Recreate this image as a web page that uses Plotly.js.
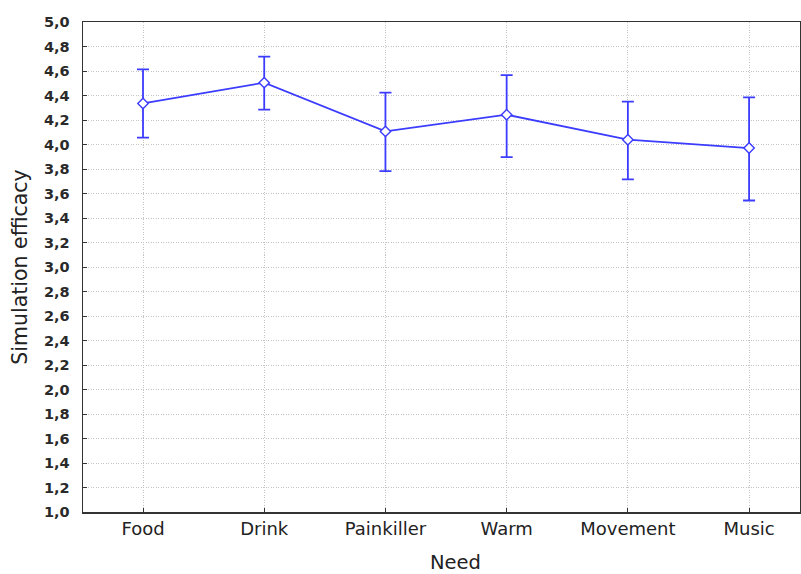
<!DOCTYPE html>
<html><head><meta charset="utf-8">
<script src="https://cdn.plot.ly/plotly-3.0.1.min.js"></script>
<style>html,body{margin:0;padding:0;background:#fff}</style>
</head><body>
<div id="chart" style="width:801px;height:574px"></div>
<script>
const categories = ["Food", "Drink", "Painkiller", "Warm", "Movement", "Music"];
const means = [4.335, 4.505, 4.107, 4.243, 4.039, 3.971];
const upper = [4.614, 4.717, 4.423, 4.567, 4.350, 4.385];
const lower = [4.056, 4.284, 3.783, 3.897, 3.715, 3.543];
const yTicks = [1.0,1.2,1.4,1.6,1.8,2.0,2.2,2.4,2.6,2.8,3.0,3.2,3.4,3.6,3.8,4.0,4.2,4.4,4.6,4.8,5.0];
const xTitle = "Need";
const yTitle = "Simulation efficacy";

const xIdx = categories.map((c, i) => i);
const errPlus = means.map((m, i) => upper[i] - m);
const errMinus = means.map((m, i) => m - lower[i]);

const trace = {
  x: xIdx, y: means, type: 'scatter', mode: 'lines+markers',
  line: {color: '#3c3cff', width: 1.8},
  marker: {symbol: 'diamond', size: 8, color: '#ffffff', line: {color: '#3c3cff', width: 1.4}},
  error_y: {type: 'data', symmetric: false, array: errPlus, arrayminus: errMinus,
            color: '#3c3cff', thickness: 1.8, width: 6},
  hoverinfo: 'skip'
};

const layout = {
  width: 801, height: 574,
  margin: {l: 83, r: 1, t: 22, b: 62},
  paper_bgcolor: '#ffffff', plot_bgcolor: '#ffffff',
  separators: ',.',
  showlegend: false,
  xaxis: {
    range: [-0.495, 5.42], tickmode: 'array', tickvals: xIdx, ticktext: categories,
    showgrid: true, gridcolor: '#c4c4c4', griddash: '1px,1.5px', gridwidth: 1,
    ticks: 'inside', ticklen: 4, tickcolor: '#333',
    showline: true, linecolor: '#333', linewidth: 1.5, mirror: true,
    zeroline: false, ticklabelstandoff: 0,
    tickfont: {family: 'DejaVu Sans', size: 18, color: '#222'}
  },
  yaxis: {
    range: [1.0, 5.0], tickmode: 'array', tickvals: yTicks,
    ticktext: yTicks.map(v => v.toFixed(1).replace('.', ',')),
    showgrid: true, gridcolor: '#c4c4c4', griddash: '1px,1.5px', gridwidth: 1,
    ticks: 'inside', ticklen: 4, tickcolor: '#333',
    showline: true, linecolor: '#333', linewidth: 1.5, mirror: true,
    zeroline: false, ticklabelstandoff: 9,
    tickfont: {family: 'DejaVu Sans', size: 14.5, color: '#2a2a2a', weight: 'bold'},
    title: {text: yTitle, font: {family: 'DejaVu Sans', size: 20.5, color: '#222'}, standoff: 10}
  },
  annotations: [{
    text: xTitle, xref: 'paper', yref: 'paper', x: 0.52, y: -0.104,
    xanchor: 'center', yanchor: 'middle', showarrow: false, borderpad: 0,
    font: {family: 'DejaVu Sans', size: 19.5, color: '#222'}
  }]
};

Plotly.newPlot('chart', [trace], layout, {displayModeBar: false, staticPlot: true});
</script>
</body></html>
